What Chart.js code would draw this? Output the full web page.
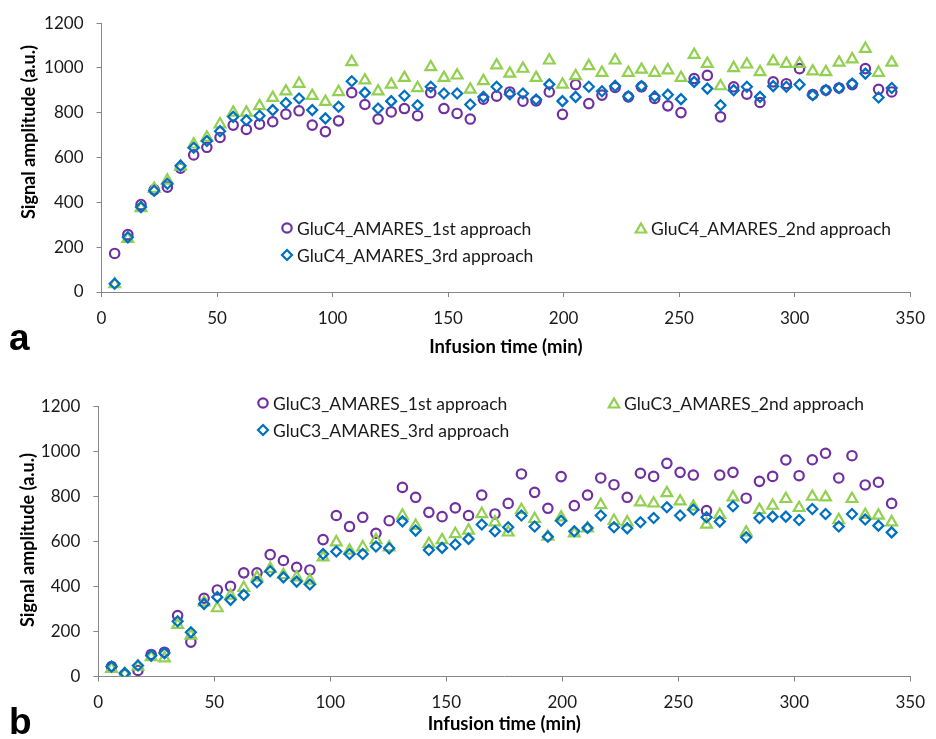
<!DOCTYPE html>
<html>
<head>
<meta charset="utf-8">
<script src="https://cdn.jsdelivr.net/npm/chart.js"></script>
<style>
  html, body { margin: 0; padding: 0; background: #fff; }
  #wrap { position: relative; width: 936px; height: 739px; }
  #wrap canvas { position: absolute; left: 0; }
</style>
</head>
<body>
<div id="wrap">
  <canvas id="chartA" width="936" height="370" style="top:0"></canvas>
  <canvas id="chartB" width="936" height="369" style="top:370px"></canvas>
</div>
<script>
// Infusion times (min)
var times = [5.7, 11.4, 17.1, 22.8, 28.5, 34.2, 39.9, 45.6, 51.3, 57, 62.7, 68.4, 74.1, 79.8, 85.5,
  91.2, 96.9, 102.6, 108.3, 114, 119.7, 125.4, 131.1, 136.8, 142.5, 148.2, 153.9, 159.6, 165.3, 171,
  176.7, 182.4, 188.1, 193.8, 199.5, 205.2, 210.9, 216.6, 222.3, 228, 233.7, 239.4, 245.1, 250.8, 256.5,
  262.2, 267.9, 273.6, 279.3, 285, 290.7, 296.4, 302.1, 307.8, 313.5, 319.2, 324.9, 330.6, 336.3, 342];

var xTicks = [0, 50, 100, 150, 200, 250, 300, 350];
var yTicks = [0, 200, 400, 600, 800, 1000, 1200];

// panel a - GluC4
var gluC4Names = ['GluC4_AMARES_1st approach', 'GluC4_AMARES_2nd approach', 'GluC4_AMARES_3rd approach'];
var gluC4First = [172, 256, 390, 456, 468, 553, 612, 646, 690, 745, 726, 749, 760, 794, 809,
  745, 716, 764, 890, 837, 772, 804, 819, 787, 890, 819, 797, 772, 861, 874,
  893, 852, 853, 893, 793, 926, 841, 879, 913, 871, 916, 864, 831, 801, 953,
  967, 782, 916, 883, 846, 938, 930, 997, 882, 901, 911, 926, 997, 905, 893];
var gluC4Second = [35, 238, 375, 461, 498, 560, 659, 690, 749, 801, 801, 830, 867, 896, 930,
  876, 849, 893, 1027, 945, 896, 926, 956, 911, 1004, 956, 967, 904, 942, 1012,
  975, 997, 956, 1034, 926, 964, 1009, 979, 1034, 979, 993, 979, 990, 956, 1059,
  1019, 919, 1000, 1016, 982, 1030, 1019, 1019, 985, 982, 1024, 1039, 1086, 979, 1024];
var gluC4Third = [37, 244, 379, 452, 483, 564, 644, 674, 718, 782, 767, 787, 812, 844, 864,
  812, 775, 827, 941, 890, 819, 852, 876, 834, 916, 886, 886, 837, 871, 916,
  883, 886, 859, 927, 852, 871, 916, 896, 920, 874, 919, 874, 881, 861, 938,
  908, 834, 901, 916, 871, 919, 916, 926, 879, 901, 911, 930, 975, 868, 911];

// panel b - GluC3
var gluC3Names = ['GluC3_AMARES_1st approach', 'GluC3_AMARES_2nd approach', 'GluC3_AMARES_3rd approach'];
var gluC3First = [44, 9, 27, 98, 108, 271, 153, 348, 385, 401, 461, 461, 542, 516, 486,
  474, 609, 716, 667, 708, 637, 693, 841, 797, 730, 711, 750, 716, 807, 723,
  770, 901, 819, 748, 889, 760, 807, 883, 853, 797, 904, 890, 948, 908, 896,
  738, 896, 908, 793, 868, 890, 963, 893, 964, 993, 883, 982, 852, 864, 770];
var gluC3Second = [34, 12, 44, 86, 81, 230, 182, 330, 304, 360, 394, 441, 479, 452, 441,
  427, 530, 597, 560, 575, 607, 575, 716, 671, 590, 607, 634, 649, 723, 686,
  641, 741, 701, 622, 708, 637, 659, 763, 693, 686, 775, 770, 816, 779, 756,
  676, 719, 797, 641, 741, 760, 790, 750, 800, 797, 696, 790, 719, 716, 686];
var gluC3Third = [44, 15, 49, 93, 104, 246, 197, 323, 353, 341, 363, 419, 468, 441, 422,
  409, 545, 556, 545, 545, 578, 570, 690, 649, 563, 572, 587, 612, 676, 646,
  664, 716, 667, 622, 693, 646, 661, 716, 664, 659, 686, 705, 753, 716, 742,
  708, 689, 757, 619, 705, 711, 711, 696, 745, 723, 667, 723, 698, 671, 641];

var colPurple = '#7030A0';
var colGreen = '#92D050';
var colBlue = '#0070C0';
var axisGray = '#868686';

Chart.defaults.font.family = 'Lato, "Open Sans", sans-serif';
Chart.defaults.color = '#1a1a1a';

function toPoints(values) {
  return values.map(function (v, i) { return { x: times[i], y: v }; });
}

function makeDatasets(names, first, second, third) {
  return [
    { label: names[0], data: toPoints(first), pointStyle: 'circle', pointRadius: 4.7,
      borderColor: colPurple, backgroundColor: 'rgba(0,0,0,0)', pointBorderWidth: 2.2, order: 3 },
    { label: names[1], data: toPoints(second), pointStyle: 'triangle', pointRadius: 6.2,
      borderColor: colGreen, backgroundColor: 'rgba(0,0,0,0)', pointBorderWidth: 2.2, order: 2 },
    { label: names[2], data: toPoints(third), pointStyle: 'rectRot', pointRadius: 5,
      borderColor: colBlue, backgroundColor: 'rgba(0,0,0,0)', pointBorderWidth: 2.2, order: 1 }
  ];
}

// draws a marker the same way for the legend
function drawMarker(ctx, style, color, r, x, y) {
  ctx.save();
  ctx.strokeStyle = color;
  ctx.lineWidth = 2.2;
  ctx.beginPath();
  if (style === 'circle') {
    ctx.arc(x, y, r, 0, Math.PI * 2);
  } else if (style === 'triangle') {
    ctx.moveTo(x, y - r);
    ctx.lineTo(x + r * Math.sqrt(3) / 2, y + r / 2);
    ctx.lineTo(x - r * Math.sqrt(3) / 2, y + r / 2);
  } else {
    ctx.moveTo(x, y - r);
    ctx.lineTo(x + r, y);
    ctx.lineTo(x, y + r);
    ctx.lineTo(x - r, y);
  }
  ctx.closePath();
  ctx.stroke();
  ctx.restore();
}

// y title, legend entries and panel letter
var extrasPlugin = {
  id: 'extras',
  afterDraw: function (chart, args, opts) {
    var ctx = chart.ctx;
    ctx.save();
    ctx.fillStyle = '#000';
    ctx.font = 'bold 18px Lato, "Open Sans", sans-serif';
    ctx.textAlign = 'center';
    ctx.textBaseline = 'middle';
    ctx.translate(opts.yTitle.x, opts.yTitle.y);
    ctx.rotate(-Math.PI / 2);
    ctx.fillText(opts.yTitle.text, 0, 0);
    ctx.restore();

    ctx.save();
    ctx.font = '17.5px Lato, "Open Sans", sans-serif';
    ctx.fillStyle = '#1a1a1a';
    ctx.textAlign = 'left';
    ctx.textBaseline = 'middle';
    chart.data.datasets.forEach(function (ds, i) {
      var pos = opts.legend[i];
      var r = ds.pointStyle === 'triangle' ? 6 : (ds.pointStyle === 'circle' ? 4.7 : 5);
      var my = ds.pointStyle === 'triangle' ? pos.y + 1.5 : pos.y;
      drawMarker(ctx, ds.pointStyle, ds.borderColor, r, pos.x, my);
      ctx.fillText(ds.label, pos.x + 10, pos.y + 1);
    });
    ctx.restore();

    ctx.save();
    ctx.fillStyle = '#000';
    ctx.font = 'bold 37px "Liberation Sans", Arial, sans-serif';
    ctx.textAlign = 'left';
    ctx.textBaseline = 'alphabetic';
    ctx.fillText(opts.panel.text, opts.panel.x, opts.panel.y);
    ctx.restore();
  }
};

function plainLabel(value) {
  return String(value);
}

function makeChart(id, datasets, layout, extras) {
  var ctx = document.getElementById(id).getContext('2d');
  return new Chart(ctx, {
    type: 'scatter',
    data: { datasets: datasets },
    plugins: [extrasPlugin],
    options: {
      responsive: false,
      animation: false,
      layout: { padding: { left: 0, right: layout.right, top: layout.top, bottom: 0 } },
      plugins: {
        legend: { display: false },
        tooltip: { enabled: false },
        extras: extras
      },
      scales: {
        x: {
          type: 'linear',
          min: xTicks[0],
          max: xTicks[xTicks.length - 1],
          afterBuildTicks: function (scale) {
            scale.ticks = xTicks.map(function (v) { return { value: v }; });
          },
          afterFit: function (scale) { scale.height = layout.xHeight; },
          ticks: { font: { size: 17 }, padding: 11, color: '#1a1a1a', callback: plainLabel },
          grid: { display: true, drawOnChartArea: false, drawTicks: true, tickLength: 5, color: axisGray },
          border: { display: true, color: axisGray, width: 1 },
          title: {
            display: true,
            text: 'Infusion time (min)',
            color: '#000',
            font: { size: 18.5, weight: 'bold' },
            padding: { top: 0, bottom: layout.titlePad }
          }
        },
        y: {
          type: 'linear',
          min: yTicks[0],
          max: yTicks[yTicks.length - 1],
          afterBuildTicks: function (scale) {
            scale.ticks = yTicks.map(function (v) { return { value: v }; });
          },
          afterFit: function (scale) { scale.width = layout.left; },
          ticks: { font: { size: 17 }, padding: 13, color: '#1a1a1a', callback: plainLabel },
          grid: { display: true, drawOnChartArea: false, drawTicks: true, tickLength: 5, color: axisGray },
          border: { display: true, color: axisGray, width: 1 }
        }
      }
    }
  });
}

var chartA = makeChart('chartA',
  makeDatasets(gluC4Names, gluC4First, gluC4Second, gluC4Third),
  { left: 101.5, right: 16.7, top: 21, xHeight: 78, titlePad: 12 },
  {
    yTitle: { text: 'Signal amplitude (a.u.)', x: 29, y: 132 },
    legend: [{ x: 287, y: 228 }, { x: 641, y: 228 }, { x: 287, y: 255 }],
    panel: { text: 'a', x: 9, y: 350 }
  });

var chartB = makeChart('chartB',
  makeDatasets(gluC3Names, gluC3First, gluC3Second, gluC3Third),
  { left: 98.3, right: 20.3, top: 36.7, xHeight: 62.5, titlePad: 4 },
  {
    yTitle: { text: 'Signal amplitude (a.u.)', x: 28, y: 170 },
    legend: [{ x: 263, y: 33 }, { x: 614, y: 33 }, { x: 263, y: 60 }],
    panel: { text: 'b', x: 9, y: 364 }
  });
</script>
</body>
</html>
